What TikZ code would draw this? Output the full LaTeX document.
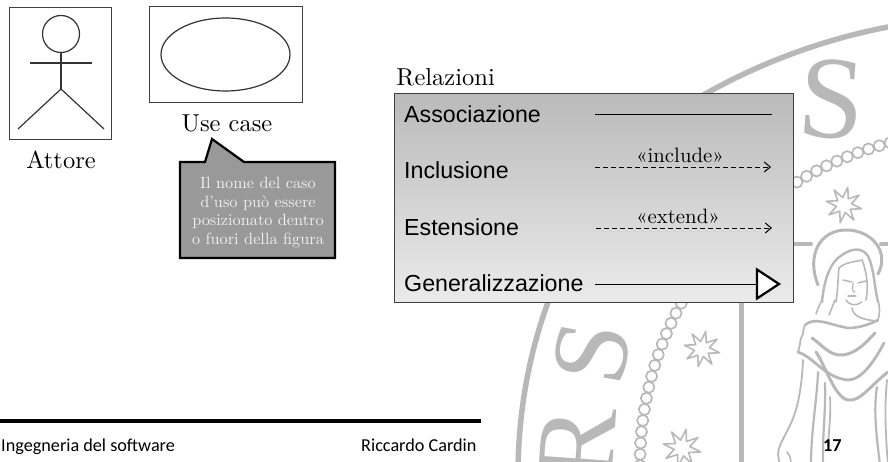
\documentclass[tikz,border=0pt]{standalone}
\usepackage{fontspec}
\usetikzlibrary{arrows.meta,shapes.geometric}
\newfontfamily\arialfam{Liberation Sans}
\newfontfamily\calfam{Carlito}
\newfontfamily\timesfam{Liberation Serif}
\newcommand{\fsz}[1]{\fontsize{#1}{#1}\selectfont}
\definecolor{sealgray}{HTML}{B8B8B8}
\tikzset{
  seal/.style={draw=sealgray,line width=#1,line cap=round,line join=round,fill=none},
  seal/.default=2pt,
  sketch/.style={draw=black!80,line width=1.2pt},
  frame/.style={draw=black!75,line width=0.9pt,fill=none},
  serif/.style={inner sep=0pt,anchor=base,font=\fsz{10},scale=2.45},
  rel/.style={inner sep=0pt,anchor=base west,font=\arialfam\fsz{23.2}},
  stereo/.style={inner sep=0pt,anchor=base,font=\fsz{10},scale=2.08},
  foot/.style={inner sep=0pt,anchor=base west,font=\calfam\fsz{18.2}},
  conn/.style={draw=black,line width=1pt},
  dep/.style={draw=black,line width=0.9pt,dash pattern=on 5pt off 3pt,-{Straight Barb[length=6pt,width=10pt,line width=1pt]}},
  gen/.style={draw=black,line width=2.2pt,fill=white,line join=miter}
}
\newcommand{\sealstar}[3]{% x y r
  \draw[seal=1.6pt] ({#1+#3*cos(12)},{#2+#3*sin(12)}) \foreach \k in {0,...,7}{
    -- ({#1+0.42*#3*cos(\k*45+34.5)},{#2+0.42*#3*sin(\k*45+34.5)}) -- ({#1+#3*cos(\k*45+57)},{#2+#3*sin(\k*45+57)})
  };
}
\begin{document}
\begin{tikzpicture}[x=1pt,y=-1pt]
\useasboundingbox (0,0) rectangle (888,462);
% --- seal watermark
\begin{scope}
\clip (0,0) rectangle (888,461);
\draw[seal=5.5pt] (888,27) .. controls (820,40) and (755,65) .. (700,97) .. controls (600,170) and (520,300) .. (518,470);
\foreach \a in {104,105.96,...,181}{
  \draw[seal=1.7pt] ({970+330*cos(\a)},{463-330*sin(\a)}) circle (5.6);
}
\sealstar{844}{205}{18}
\sealstar{702}{349}{18}
\sealstar{682}{448}{19}
\draw[seal=5pt] (741,300) -- (741,470);
\draw[seal=4pt] (793,244) -- (811,244);
\draw[seal=4pt] (881,244) -- (890,244);
\node[text=sealgray,inner sep=0pt,font=\timesfam\fsz{118},rotate=-4] (bigS) at (832,99) {S};
\node[text=sealgray,inner sep=0pt,font=\timesfam\fsz{108},rotate=80] (sideS) at (592,353) {S};
\node[text=sealgray,inner sep=0pt,font=\timesfam\fsz{112},rotate=86] (sideR) at (578,445) {R};
% halo
\draw[seal=3pt] (818,285) .. controls (806,255) and (820,230) .. (846,230) .. controls (872,230) and (890,252) .. (878,274);
% veil and face
\draw[seal=2.4pt] (822,302) .. controls (824,280) and (830,262) .. (842,255) .. controls (852,248) and (862,247) .. (868,256) .. controls (874,268) and (874,285) .. (878,302);
\draw[seal=1.6pt] (836,302) .. controls (838,290) and (838,275) .. (839,268) .. controls (845,262) and (855,262) .. (862,260);
\draw[seal=1.6pt] (862,260) .. controls (868,275) and (868,290) .. (866,300);
\draw[seal=1.5pt] (843,280) -- (852,282);
\draw[seal=1.5pt] (858,283) -- (866,281);
\draw[seal=1.2pt] (853,283) .. controls (853,288) and (851,291) .. (855,292);
\draw[seal=1.2pt] (848,296) -- (856,296);
\draw[seal=1.5pt] (846,300) .. controls (850,306) and (856,306) .. (862,302);
% neck, upper lines
\draw[seal=1.6pt] (816,314) .. controls (818,308) and (820,304) .. (822,300);
\draw[seal=1.6pt] (829,315) .. controls (831,310) and (833,305) .. (835,300);
\draw[seal=1.6pt] (852,308) .. controls (853,316) and (862,320) .. (878,321);
\draw[seal=1.6pt] (878,300) .. controls (880,308) and (880,314) .. (878,320);
% cloak folds
\draw[seal=2.6pt] (805,325) .. controls (815,316) and (830,325) .. (848,328) .. controls (860,328) and (870,324) .. (878,320);
\draw[seal=1.8pt] (805,325) .. controls (802,332) and (804,334) .. (801,338) .. controls (800,342) and (800,346) .. (798,352);
\draw[seal=3pt] (812,338) .. controls (822,345) and (830,356) .. (842,355) .. controls (855,354) and (865,344) .. (875,333);
\draw[seal=2.8pt] (798,352) .. controls (815,358) and (825,378) .. (848,380) .. controls (862,380) and (875,360) .. (884,343);
\draw[seal=3pt] (816,352) .. controls (825,365) and (835,398) .. (848,400) .. controls (860,402) and (870,386) .. (888,372);
% dress
\draw[seal=1.8pt] (803,360) .. controls (802,385) and (798,410) .. (790,425) .. controls (785,437) and (778,445) .. (778,455) -- (780,465);
\draw[seal=1.6pt] (787,452) .. controls (790,456) and (792,460) .. (790,465);
\draw[seal=2.2pt] (818,372) .. controls (817,400) and (811,430) .. (811,465);
\draw[seal=2.2pt] (825,383) .. controls (826,410) and (822,440) .. (823,465);
\draw[seal=1.8pt] (830,397) .. controls (831,415) and (829,430) .. (828,445);
\draw[seal=2.2pt] (877,387) .. controls (873,410) and (877,440) .. (880,465);
\draw[seal=1.8pt] (887,380) .. controls (884,410) and (886,440) .. (888,465);
\end{scope}
% --- actor
\node[frame,minimum width=101.5pt,minimum height=132pt,inner sep=0pt] (actorbox) at (60.25,73) {};
\node[circle,sketch,minimum size=37pt,inner sep=0pt] (head) at (61,34) {};
\coordinate (hip) at (61,89);
\coordinate (armL) at (30,63);
\coordinate (armR) at (92,63);
\coordinate (footL) at (18,129);
\coordinate (footR) at (104,129);
\draw[sketch] (head.south) -- (hip);
\draw[sketch] (armL) -- (armR);
\draw[sketch] (footL) -- (hip) -- (footR);
\node[serif] (attore) at (61,169) {Attore};
% --- use case
\node[frame,minimum width=153pt,minimum height=96pt,inner sep=0pt] (ucbox) at (225.5,54) {};
\node[ellipse,sketch,minimum width=129pt,minimum height=73pt,inner sep=0pt] (ucell) at (225.5,54.5) {};
\node[serif] (usecase) at (227,132) {Use case};
% --- callout
\draw[draw=black,line width=2.2pt,fill=black!40,line join=miter] (180,162) -- (205,162) -- (212,139) -- (244,162) -- (335,162) -- (335,258) -- (180,258) -- cycle;
\node[inner sep=0pt,align=center,text=white!94!black,scale=1.63,font=\fontsize{10}{11.6}\selectfont] (note) at (258,212.5)
  {Il nome del caso\\d’uso può essere\\posizionato dentro\\o fuori della figura};
% --- relations
\node[serif,anchor=base west] (relazioni) at (396,86) {Relazioni};
\node[draw=black!75,line width=1pt,top color=black!27,bottom color=black!8,minimum width=399pt,minimum height=208pt,inner sep=0pt] (relbox) at (593.5,198) {};
\node[rel] (assoc) at (404,123) {Associazione};
\node[rel] (incl) at (404,179) {Inclusione};
\node[rel] (est) at (404,236) {Estensione};
\node[rel] (genl) at (404,291) {Generalizzazione};
\coordinate (a1) at (595,115); \coordinate (a2) at (772,115);
\coordinate (i1) at (595,167); \coordinate (i2) at (771,167);
\coordinate (e1) at (596,228); \coordinate (e2) at (772,228);
\coordinate (g1) at (595,284); \coordinate (g2) at (757,284);
\draw[conn] (a1) -- (a2);
\draw[dep] (i1) -- (i2);
\draw[dep] (e1) -- (e2);
\draw[conn] (g1) -- (g2);
\draw[gen] (g2) -- (757,269.5) -- (779,284) -- (757,298.5) -- cycle;
\node[stereo] (incst) at (680,162.5) {«include»};
\node[stereo] (extst) at (678,223.5) {«extend»};
% --- footer
\coordinate (fl) at (0,420.5); \coordinate (fr) at (481,420.5);
\draw[draw=black,line width=4pt] (fl) -- (fr);
\node[foot] (course) at (1,451) {Ingegneria del software};
\node[foot] (author) at (361,451) {Riccardo Cardin};
\node[foot,font=\calfam\bfseries\fsz{18.2}] (page) at (823,451) {17};
\end{tikzpicture}
\end{document}
